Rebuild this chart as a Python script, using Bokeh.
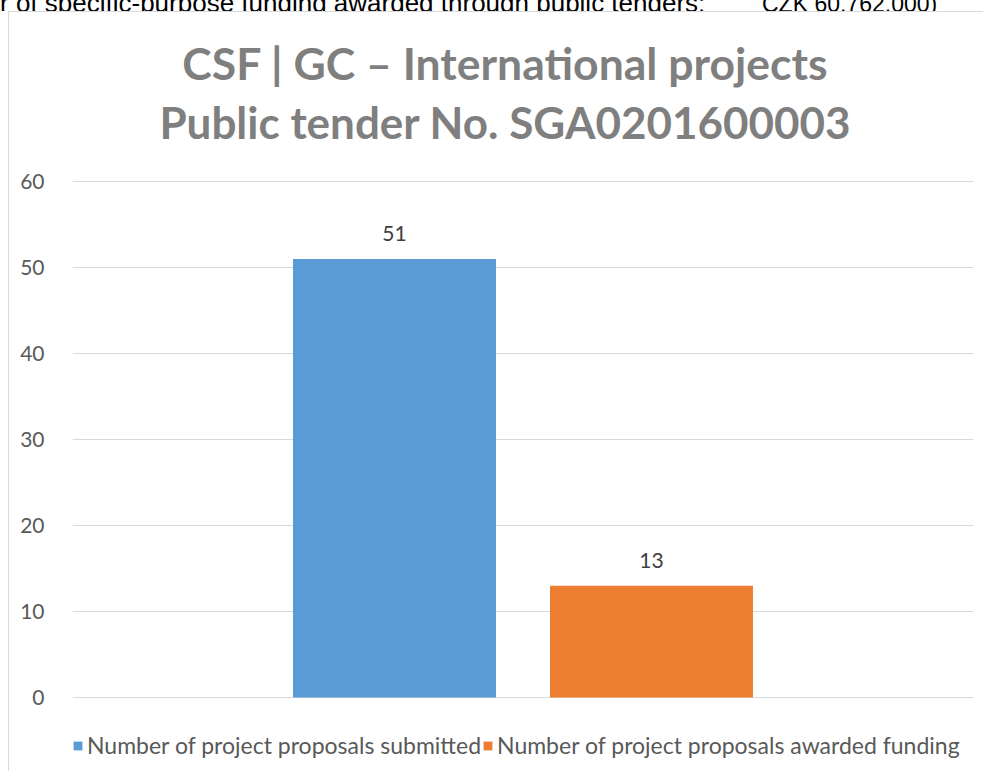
from bokeh.plotting import figure
from bokeh.models import (ColumnDataSource, FactorRange, FixedTicker, Label, LabelSet, Range1d, Div)
from bokeh.layouts import column
from bokeh.transform import dodge
from bokeh.core.properties import value
from bokeh.embed import file_html
from bokeh.resources import INLINE

# ---- data ----
group = ["Public tender No. SGA0201600003"]
series_names = ["Number of project proposals submitted",
                "Number of project proposals awarded funding"]
series_values = [51, 13]
series_colors = ["#5b9bd5", "#ed7d31"]
y_ticks = [0, 10, 20, 30, 40, 50, 60]
title_lines = ["CSF | GC \u2013 International projects", "Public tender No. SGA0201600003"]
header_left = "r of specific-purpose funding awarded through public tenders:"
header_right = "CZK 60,762,000)"

FONT = "Lato"

# text of the page above the chart, mostly hidden behind the chart box
header = Div(
    text=('<div style="font-family:\'Liberation Sans\',Arial;font-size:26px;line-height:26px;'
          'margin-top:-17px;white-space:nowrap;color:#000;">'
          '<span style="display:inline-block;width:762px;">' + header_left + '</span>'
          '<span style="font-size:23px;">' + header_right + '</span></div>'),
    width=984, height=11, margin=0, styles={"overflow": "hidden"})

p = figure(width=975, height=760, x_range=FactorRange(factors=group, range_padding=0),
           y_range=Range1d(-8.72, 79.65), output_backend="svg", toolbar_location=None,
           min_border_left=63, min_border_right=11, min_border_top=0, min_border_bottom=0)
p.margin = (0, 0, 0, 8)
p.title.visible = False
p.styles = {"border-top": "1px solid #d9d9d9", "border-left": "1px solid #d9d9d9"}
p.outline_line_color = None

offsets = [-0.1426, 0.1426]
for name, val, col, off in zip(series_names, series_values, series_colors, offsets):
    src = ColumnDataSource(dict(x=group, top=[val], lab=[str(val)]))
    p.vbar(x=dodge("x", off, range=p.x_range), top="top", bottom=0, width=0.2253, source=src,
           fill_color=col, line_color=None, legend_label=name)
    p.add_layout(LabelSet(x=dodge("x", off, range=p.x_range), y="top", text="lab", source=src,
                          y_offset=25, text_align="center", text_baseline="middle",
                          text_font=value(FONT), text_font_size=value("21px"),
                          text_color="#404040"))

p.xaxis.visible = False
p.xgrid.visible = False
yax = p.yaxis[0]
yax.ticker = FixedTicker(ticks=y_ticks)
yax.axis_line_color = None
yax.major_tick_line_color = None
yax.minor_tick_line_color = None
yax.major_label_standoff = 22
yax.major_label_text_font = FONT
yax.major_label_text_font_size = "21px"
yax.major_label_text_color = "#595959"
p.ygrid.ticker = FixedTicker(ticks=y_ticks)
p.ygrid.grid_line_color = "#d9d9d9"
p.ygrid.grid_line_width = 1

for txt, yy, fs in zip(title_lines, [73.84, 66.86], ["44.5px", "44px"]):
    p.add_layout(Label(x=433, y=yy, x_units="screen", y_units="data", text=txt,
                       text_align="center", text_baseline="middle", text_font=FONT,
                       text_font_size=fs, text_font_style="bold", text_color="#7f7f7f"))

lg = p.legend[0]
lg.location = (0, 13)
lg.orientation = "horizontal"
lg.border_line_color = None
lg.background_fill_alpha = 0
lg.padding = 0
lg.margin = 0
lg.spacing = 1
lg.glyph_width = 11
lg.glyph_height = 11
lg.label_standoff = 4
lg.label_height = 20
lg.label_text_font = FONT
lg.label_text_font_size = "23px"
lg.label_text_color = "#595959"
lg.label_text_baseline = "middle"

layout = column(header, p, spacing=0)
open("out.html", "w").write(file_html(layout, INLINE))
